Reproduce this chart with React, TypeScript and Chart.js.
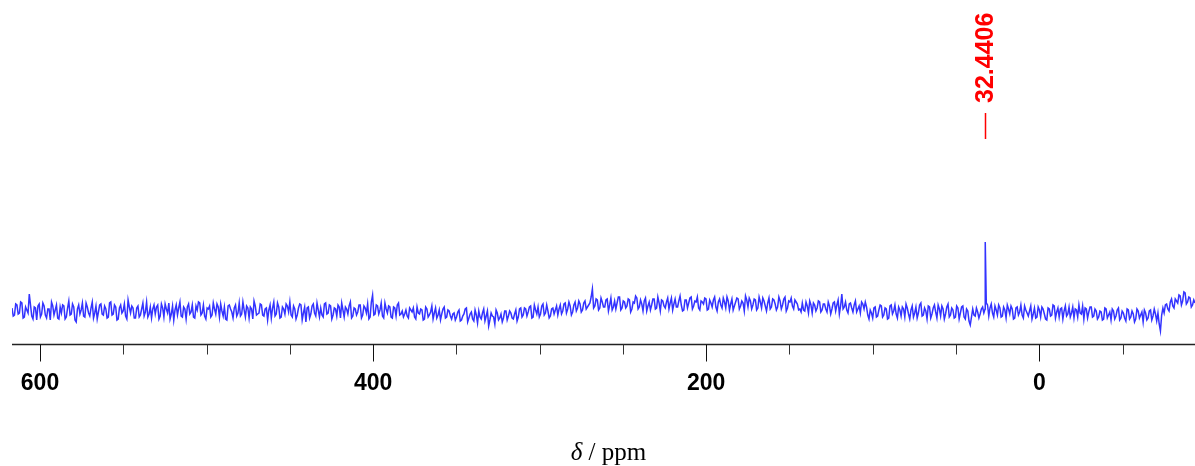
import React, { useEffect, useRef } from "react";
import { Chart, registerables } from "chart.js";

Chart.register(...registerables);

// Spectrum axis (ppm), reversed like an NMR plot
const ppmStart = 616.8;
const ppmEnd = -93.5;

// Baseline intensities (left → right, high ppm → low ppm)
const intensity: number[] = [
  3, -4, 6, -2, 8, -6, 1, 17, -5, 4, -9, 7, -3, 5, -7, 2, 9, -4, 6, -8,
  -2, 5, -6, 10, -3, 4, -11, 6, 1, -5, 8, -2, 3, -7, 5, -1, 7, -4, 2, -6,
  9, -3, 4, -8, 6, 0, -5, 11, -2, 3, -7, 5, -4, 8, -1, -6, 4, 2, -3, 6,
  -5, 3, 7, -2, -8, 5, 1, -4, 9, -6, 2, 4, -3, 6, -7, 1, 8, -2, -5, 3,
  5, -4, 2, 7, -6, 0, 4, -9, 6, -1, 3, -5, 8, -3, 1, 5, -7, 2, 10, -4,
  -2, 6, -5, 3, 1, -7, 9, -3, 4, -6, 2, 7, -1, -4, 5, -8, 3, 6, -2, -11,
  4, -3, 7, -5, 1, 3, -6, 8, -2, 5, -4, 2, 6, -7, 1, 4, -3, 9, -5, 2,
  -1, 6, -4, 3, 7, -6, 16, -3, 5, 1, -5, 8, -2, 4, -7, 3, 6, -4, 0, -3,
  -5, 3, -1, -6, 4, -3, 1, -8, 2, -4, 5, -2, -7, 1, -3, 4, -6, 0, -8, -2,
  -6, 1, -9, -3, 3, -7, -1, -10, -4, 0, -8, 2, -5, -15, -2, -6, 1, -9, -3, -7,
  0, -5, -2, -8, 1, -6, 3, -4, 2, -1, 5, -6, 1, 4, -3, 7, -2, 0, -5, 3,
  1, -4, 6, 0, 8, 2, 5, -1, 9, 3, 7, 1, 10, 4, 8, 22, 5, 11, 3, 9,
  4, 12, 6, 1, 10, 8, 14, 3, 9, 5, 11, 2, 8, 13, 4, 7, 10, 0, 9, 6,
  12, 3, 8, 11, 5, 9, 2, 13, 7, 4, 10, 6, 1, 11, 8, 14, 5, 9, 3, 10,
  7, 12, 2, 8, 11, 4, 9, 6, 13, 3, 10, 7, 1, 9, 12, 5, 8, 15, 4, 10,
  6, 11, 3, 9, 13, 5, 8, 2, 12, 7, 4, 10, 6, 14, 3, 9, 5, 11, 7, 2,
  8, 0, 5, 10, -2, 6, 3, 9, 1, 7, -1, 5, 2, 9, 6, -3, 17, 4, 1, 7,
  3, 6, -1, 5, 9, 2, 4, -8, -2, 3, -6, 1, 5, -4, 2, -7, 6, 0, -3, 4,
  -5, 2, 7, -3, 1, -6, 4, -2, 8, -4, 0, 5, -7, 3, -1, 6, -5, 2, -3, 7,
  -4, 1, -6, 3, -2, 5, -8, 0, -14, 2, -5, -1, -3, 4, 2, 6, 3, -2, 5, -4,
  3, -5, 1, 6, -3, 2, -7, 4, -1, -4, 5, -2, 0, -8, 3, -6, 1, 4, -3, -9,
  2, -4, 5, -1, -6, 3, 0, -5, 4, -2, -7, 1, 6, -3, -8, 2, -1, 4, -5, 0,
  -6, -1, -8, 2, -4, -9, 0, -5, 3, -7, -2, -10, 1, -6, -3, -8, 0, -4, -11, -2,
  -7, 1, -5, -3, -2, -20, 3, 6, 2, 9, 5, 12, 8, 15, 10, 18, 9, 13, 6, 8,
];

// Intensities read half-way between the points above
const intensityMid: number[] = [
  -5, 7, -3, 9, -7, 4, -2, 6, -8, 3, 5, -6, 8, -4, 2, -9, 5, 1, -7, 4,
  6, -8, 3, -4, 7, -9, 2, -3, 8, -6, 4, -5, 9, -2, -8, 6, -3, 5, -7, 8,
  -4, 6, -9, 3, -2, 7, -8, 4, 5, -7, 3, -6, 2, -5, 9, -3, -7, 6, 4, -8,
  7, -6, 2, 8, -3, -9, 6, 3, -5, 4, -8, 7, -1, -6, 5, 9, -4, 6, -8, 2,
  -6, 8, -3, 4, 7, -5, -8, 5, 2, -7, 6, -2, -5, 9, -6, 3, 4, -8, 5, -3,
  7, -4, 2, -9, 6, 3, -5, 8, -7, 4, -3, 5, 9, -6, 2, -4, 7, -9, 4, 3,
  -7, 5, -2, 8, -6, -4, 7, -3, 6, -8, 3, -5, 4, 8, -6, 2, 5, -7, 3, -4,
  6, -7, 5, -2, -8, 9, -4, 6, -3, 8, -7, 2, 5, -6, 4, -5, 8, -3, -6, 1,
  -7, 1, 3, -8, -2, 2, -9, 4, -6, -1, -8, 3, -4, -9, 2, -7, 1, -5, -3, -9,
  -1, -10, -5, 2, -11, -3, -8, 1, -12, -6, -2, -10, 0, -9, -5, -13, -2, -7, -11, 0,
  -9, 0, -7, -3, -10, 2, -6, 3, -5, 4, -7, 6, -3, -6, 5, -4, 6, -7, 2, -3,
  5, 2, -3, 7, -2, 9, -4, 6, 0, 10, -1, 8, 2, 6, 14, 3, 12, 1, 13, 4,
  11, 0, 13, 4, 2, 14, 1, 10, 3, 12, -1, 9, 15, 2, 11, 0, 13, 5, 1, 12,
  2, 14, 0, 10, 3, 13, 8, 1, 12, 4, 15, 0, 11, 3, 13, 2, 10, 14, 1, 9,
  13, 1, 11, 4, 14, 0, 12, 3, 9, 14, 1, 12, 5, 13, 2, 10, 0, 11, 13, 2,
  12, 1, 14, 3, 10, 0, 13, 4, 11, 1, 14, 2, 12, 0, 10, 13, 2, 9, 1, -1,
  1, 9, -2, 6, 8, 0, 10, -1, 7, 2, 9, -3, 8, 0, 11, 5, 2, 9, -2, 8,
  -1, 10, 2, -2, 7, 9, -4, 1, -7, 4, -5, 6, -6, 3, -8, 5, -3, 6, -7, 1,
  4, -6, 3, -8, 5, -2, -7, 6, -5, 3, -8, 4, -3, 6, -7, 2, 5, -8, 4, -6,
  3, -7, 5, -8, 4, -6, 2, -10, -6, -4, 3, -7, 2, -2, 8, -5, 7, -6, 1, 6,
  -6, 4, -7, 2, 5, -8, 3, -4, 6, -7, 1, -5, 5, -3, -7, 4, -6, 2, -8, 3,
  -5, 6, -7, 3, 2, -8, 5, -3, -6, 4, 2, -6, -2, 5, 3, -7, 4, -6, 2, -8,
  0, -9, 3, -7, -1, 2, -8, 1, -9, 0, -7, 2, -8, 0, -11, 2, -7, -1, 1, -9,
  0, -9, 2, -10, -13, -4, -2, 7, 0, 12, 3, 10, 16, 6, 19, 7, 14, 4, 11,
];

// Resolved signal
const peakPpm = [32.4406];
const peakHeight = [69];
const peakLabels = ["32.4406"];

// Axis ticks
const majorTicks = [600, 400, 200, 0];
const minorTicks = [550, 500, 450, 350, 300, 250, 150, 100, 50, -50];
const axisTitleItalic = "δ";
const axisTitleRest = " / ppm";

function buildData() {
  const step = (ppmStart - ppmEnd) / (intensity.length - 1);
  const pts = intensity.map((v, i) => ({ x: ppmStart - i * step, y: v }));
  intensityMid.forEach((v, i) => pts.push({ x: ppmStart - (i + 0.5) * step, y: v }));
  peakPpm.forEach((p, k) => pts.push({ x: p, y: peakHeight[k] }));
  pts.sort((a, b) => b.x - a.x);
  return pts;
}

const axisPlugin = {
  id: "nmrAxis",
  afterDraw(chart: any) {
    const ctx = chart.ctx as CanvasRenderingContext2D;
    const xs = chart.scales.x;
    const area = chart.chartArea;
    const y0 = area.bottom + 0.5;
    ctx.save();
    // axis line
    ctx.strokeStyle = "#222";
    ctx.lineWidth = 1.3;
    ctx.beginPath();
    ctx.moveTo(area.left, y0);
    ctx.lineTo(area.right, y0);
    ctx.stroke();
    // ticks
    ctx.lineWidth = 1;
    ctx.strokeStyle = "#111";
    majorTicks.forEach((t) => {
      const px = Math.round(xs.getPixelForValue(t)) + 0.5;
      ctx.beginPath();
      ctx.moveTo(px, y0);
      ctx.lineTo(px, y0 + 17);
      ctx.stroke();
    });
    ctx.strokeStyle = "#333";
    minorTicks.forEach((t) => {
      const px = Math.round(xs.getPixelForValue(t)) + 0.5;
      ctx.beginPath();
      ctx.moveTo(px, y0);
      ctx.lineTo(px, y0 + 10);
      ctx.stroke();
    });
    // tick labels
    ctx.fillStyle = "#000";
    ctx.font = "bold 23px 'Liberation Sans', Arial, sans-serif";
    ctx.textAlign = "center";
    ctx.textBaseline = "alphabetic";
    majorTicks.forEach((t) => {
      ctx.fillText(String(t), xs.getPixelForValue(t), 390);
    });
    // axis title with italic delta
    ctx.textAlign = "left";
    const fItal = "italic 25px 'Liberation Serif', 'Times New Roman', serif";
    const fReg = "25px 'Liberation Serif', 'Times New Roman', serif";
    ctx.font = fItal;
    const w1 = ctx.measureText(axisTitleItalic).width;
    ctx.font = fReg;
    const w2 = ctx.measureText(axisTitleRest).width;
    const cx = (area.left + area.right) / 2 + 5;
    const sx = cx - (w1 + w2) / 2;
    ctx.font = fItal;
    ctx.fillText(axisTitleItalic, sx, 460);
    ctx.font = fReg;
    ctx.fillText(axisTitleRest, sx + w1, 460);
    // peak labels
    peakPpm.forEach((p, k) => {
      const px = xs.getPixelForValue(p);
      ctx.fillStyle = "#ff0000";
      ctx.fillRect(Math.round(px) - 0.25, 113, 1.5, 26);
      ctx.save();
      ctx.translate(px + 8, 103);
      ctx.rotate(-Math.PI / 2);
      ctx.fillStyle = "#ff0000";
      ctx.font = "bold 25px 'Liberation Sans', Arial, sans-serif";
      ctx.textAlign = "left";
      ctx.textBaseline = "alphabetic";
      ctx.fillText(peakLabels[k], 0, 0);
      ctx.restore();
    });
    ctx.restore();
  },
};

export default function App() {
  const ref = useRef<HTMLCanvasElement | null>(null);
  useEffect(() => {
    if (!ref.current) return;
    const chart = new Chart(ref.current, {
      type: "line",
      data: {
        datasets: [
          {
            data: buildData(),
            borderColor: "rgb(51,51,255)",
            borderWidth: 1.5,
            pointRadius: 0,
            tension: 0,
            fill: false,
          },
        ],
      },
      options: {
        responsive: false,
        animation: false,
        parsing: true,
        layout: { padding: { left: 12, right: 0, top: 0, bottom: 122 } },
        plugins: { legend: { display: false }, tooltip: { enabled: false } },
        scales: {
          x: { type: "linear", reverse: true, min: ppmEnd, max: ppmStart, display: false },
          y: { type: "linear", min: -33, max: 311, display: false },
        },
      },
      plugins: [axisPlugin],
    });
    return () => chart.destroy();
  }, []);
  return (
    <div style={{ position: "fixed", left: 0, top: 0, width: 1195, height: 466, background: "#fff" }}>
      <canvas ref={ref} width={1195} height={466} />
    </div>
  );
}
